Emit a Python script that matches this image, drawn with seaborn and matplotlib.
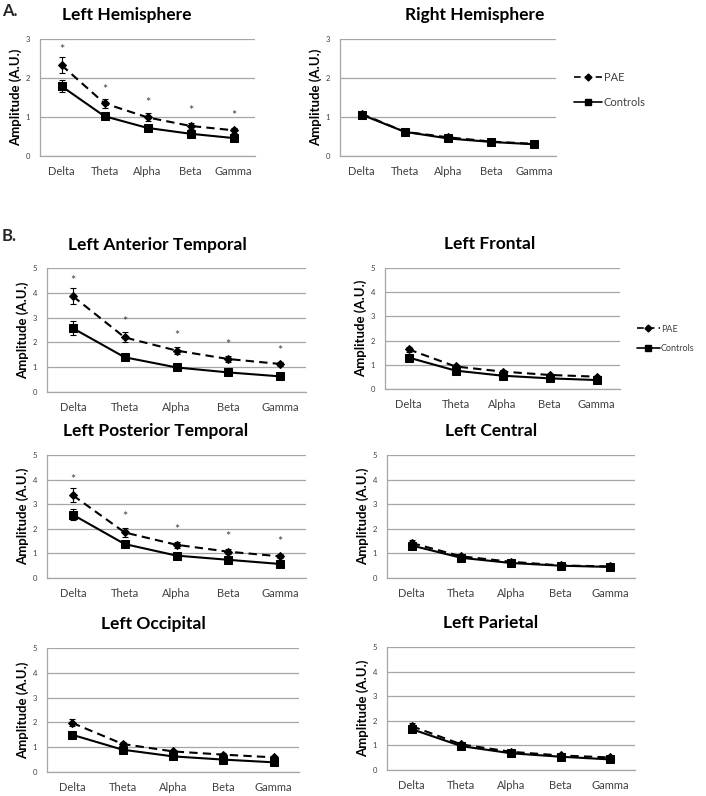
import matplotlib
matplotlib.use("Agg")
import matplotlib.pyplot as plt
from matplotlib.lines import Line2D
import numpy as np
import pandas as pd
import seaborn as sns

sns.set_theme(style="white")
plt.rcParams["font.family"] = ["Lato", "DejaVu Sans"]

bands = ["Delta", "Theta", "Alpha", "Beta", "Gamma"]
groups = ["PAE", "Controls"]

# Panel A
lh_pae = [2.33, 1.35, 0.99, 0.77, 0.66]
lh_pae_err = [0.20, 0.12, 0.10, 0.07, 0.06]
lh_ctl = [1.79, 1.02, 0.72, 0.57, 0.46]
lh_ctl_err = [0.16, 0.06, 0.05, 0.04, 0.03]
lh_stars = [2.72, 1.70, 1.37, 1.15, 1.02]

rh_pae = [1.08, 0.62, 0.48, 0.37, 0.31]
rh_pae_err = [0.06, 0.03, 0.03, 0.02, 0.02]
rh_ctl = [1.06, 0.62, 0.45, 0.36, 0.30]
rh_ctl_err = [0.06, 0.03, 0.02, 0.02, 0.02]
rh_stars = [None, None, None, None, None]

# Panel B
lat_pae = [3.86, 2.20, 1.67, 1.33, 1.13]
lat_pae_err = [0.32, 0.20, 0.14, 0.12, 0.08]
lat_ctl = [2.57, 1.40, 0.99, 0.79, 0.63]
lat_ctl_err = [0.28, 0.12, 0.07, 0.05, 0.04]
lat_stars = [4.46, 2.81, 2.24, 1.91, 1.67]

lf_pae = [1.64, 0.93, 0.72, 0.58, 0.51]
lf_pae_err = [0.10, 0.06, 0.05, 0.04, 0.03]
lf_ctl = [1.30, 0.76, 0.55, 0.44, 0.37]
lf_ctl_err = [0.08, 0.05, 0.04, 0.03, 0.03]
lf_stars = [None, None, None, None, None]

lpt_pae = [3.36, 1.85, 1.35, 1.07, 0.88]
lpt_pae_err = [0.29, 0.17, 0.13, 0.10, 0.08]
lpt_ctl = [2.57, 1.38, 0.91, 0.74, 0.57]
lpt_ctl_err = [0.22, 0.08, 0.06, 0.05, 0.04]
lpt_stars = [3.99, 2.46, 1.96, 1.65, 1.45]

lc_pae = [1.42, 0.88, 0.66, 0.51, 0.47]
lc_pae_err = [0.12, 0.06, 0.05, 0.04, 0.03]
lc_ctl = [1.32, 0.82, 0.61, 0.50, 0.45]
lc_ctl_err = [0.10, 0.05, 0.04, 0.03, 0.03]
lc_stars = [None, None, None, None, None]

lo_pae = [1.98, 1.13, 0.83, 0.70, 0.59]
lo_pae_err = [0.14, 0.07, 0.06, 0.05, 0.04]
lo_ctl = [1.50, 0.90, 0.63, 0.50, 0.39]
lo_ctl_err = [0.12, 0.06, 0.04, 0.04, 0.03]
lo_stars = [None, None, None, None, None]

lp_pae = [1.78, 1.04, 0.74, 0.59, 0.51]
lp_pae_err = [0.14, 0.07, 0.05, 0.04, 0.04]
lp_ctl = [1.66, 0.97, 0.68, 0.54, 0.43]
lp_ctl_err = [0.12, 0.06, 0.05, 0.04, 0.03]
lp_stars = [None, None, None, None, None]

W, H = 706, 796
fig = plt.figure(figsize=(W / 100, H / 100), dpi=100)

GRID = "#a6a6a6"
TXT = "#404040"


def rect(x0, y0, x1, y1):
    return [x0 / W, 1 - y1 / H, (x1 - x0) / W, (y1 - y0) / H]


panels = [
    ("Left Hemisphere", (40, 39, 255, 156), (127, 15), 3, lh_pae, lh_pae_err, lh_ctl, lh_ctl_err, lh_stars),
    ("Right Hemisphere", (340, 39, 556, 156), (475, 15), 3, rh_pae, rh_pae_err, rh_ctl, rh_ctl_err, rh_stars),
    ("Left Anterior Temporal", (47, 268, 306, 392), (157, 245), 5, lat_pae, lat_pae_err, lat_ctl, lat_ctl_err, lat_stars),
    ("Left Frontal", (385, 268, 620, 389), (490, 244), 5, lf_pae, lf_pae_err, lf_ctl, lf_ctl_err, lf_stars),
    ("Left Posterior Temporal", (47, 455, 306, 578), (156, 431), 5, lpt_pae, lpt_pae_err, lpt_ctl, lpt_ctl_err, lpt_stars),
    ("Left Central", (387, 455, 635, 578), (491, 431), 5, lc_pae, lc_pae_err, lc_ctl, lc_ctl_err, lc_stars),
    ("Left Occipital", (47, 648, 299, 772), (153, 624), 5, lo_pae, lo_pae_err, lo_ctl, lo_ctl_err, lo_stars),
    ("Left Parietal", (387, 647, 635, 770), (491, 623), 5, lp_pae, lp_pae_err, lp_ctl, lp_ctl_err, lp_stars),
]

styles = {
    "PAE": dict(dashed=True, marker="D", ms=4),
    "Controls": dict(dashed=False, marker="s", ms=6),
}

for title, box, tpos, ymax, pae, pae_e, ctl, ctl_e, stars in panels:
    ax = fig.add_axes(rect(*box))
    df = pd.DataFrame({
        "band": bands * 2,
        "group": ["PAE"] * 5 + ["Controls"] * 5,
        "amp": list(pae) + list(ctl),
        "err": list(pae_e) + list(ctl_e),
    })
    for g in groups:
        sub = df[df.group == g]
        st = styles[g]
        sns.lineplot(data=sub, x="band", y="amp", ax=ax, color="black",
                     marker=st["marker"], markersize=st["ms"],
                     markeredgecolor="black", linewidth=1.5, legend=False,
                     sort=False, zorder=3)
        if st["dashed"]:
            ax.lines[-1].set_dashes([4, 2.5])
        xs = np.arange(len(sub))
        ax.errorbar(xs, sub["amp"], yerr=sub["err"], fmt="none", ecolor="black",
                    elinewidth=0.8, capsize=2, capthick=0.8, zorder=2)
    for i, s in enumerate(stars):
        if s is not None:
            ax.text(i, s, "*", ha="center", va="center", fontsize=9, color=TXT)
    ax.set_xlim(-0.5, 4.5)
    ax.set_ylim(0, ymax)
    ax.set_yticks(range(0, ymax + 1))
    ax.set_xticks(range(5))
    ax.set_xticklabels(bands)
    ax.set_xticks(np.arange(-0.5, 5, 1), minor=True)
    ax.tick_params(axis="x", which="major", length=0, pad=7, labelsize=8, labelcolor=TXT)
    ax.tick_params(axis="x", which="minor", length=4, width=0.8, color=GRID, direction="out")
    ax.tick_params(axis="y", length=3, width=0.8, color=GRID, labelsize=5.5, labelcolor=TXT, pad=4)
    ax.yaxis.grid(True, color=GRID, linewidth=0.9)
    ax.xaxis.grid(False)
    ax.set_axisbelow(True)
    for sp in ["top", "right"]:
        ax.spines[sp].set_visible(False)
    for sp in ["left", "bottom"]:
        ax.spines[sp].set_color(GRID)
        ax.spines[sp].set_linewidth(0.9)
    ax.set_xlabel("")
    ax.set_ylabel("Amplitude (A.U.)", fontsize=9.5, fontweight="bold", color="black", labelpad=3)
    fig.text(tpos[0] / W, 1 - tpos[1] / H, title, ha="center", va="center",
             fontsize=12.5, fontweight="bold", color="black")

    if title in ("Right Hemisphere", "Left Frontal"):
        handles = [
            Line2D([], [], color="black", linestyle=(0, (4, 2.5)), marker="D", markersize=3.5, linewidth=1.2),
            Line2D([], [], color="black", linestyle="-", marker="s", markersize=5, linewidth=1.2),
        ]
        if title == "Right Hemisphere":
            loc = (568 / W, 1 - 90 / H)
            fs = 8
        else:
            loc = (632 / W, 1 - 339 / H)
            fs = 6.5
        fig.legend(handles, groups, loc="center left", bbox_to_anchor=loc,
                   frameon=False, fontsize=fs, handlelength=2.6, handletextpad=0.1,
                   labelspacing=1.2, labelcolor=TXT, borderpad=0)

fig.text(2 / W, 1 - 11 / H, "A.", fontsize=12, fontweight="bold", va="center", ha="left")
fig.text(2 / W, 1 - 236 / H, "B.", fontsize=12, fontweight="bold", va="center", ha="left")

fig.savefig("out.png", dpi=100)
